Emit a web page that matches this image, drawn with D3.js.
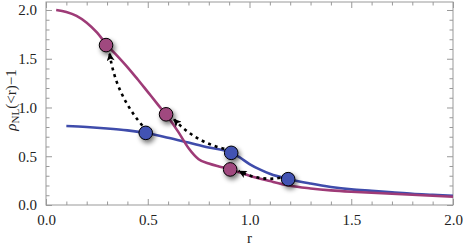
<!DOCTYPE html>
<html lang="en">
<head>
    <meta charset="UTF-8">
    <script src="https://d3js.org/d3.v7.min.js"></script>
    <title>rho_NL(<r)-1 vs r</title>
    <style>
        body { margin: 0; background: #fff; }
        text { font-family: "Liberation Serif", "Times New Roman", serif; }
    </style>
</head>
<body>
    <script>
        // curve samples
        const rPurple = [0.05, 0.1, 0.15, 0.2, 0.25, 0.3, 0.35, 0.4, 0.45, 0.5, 0.55, 0.6, 0.65, 0.7, 0.75, 0.8, 0.85, 0.9, 0.95, 1.0, 1.1, 1.2, 1.3, 1.4, 1.5, 1.6, 1.7, 1.8, 1.9, 2.0];
        const vPurple = [2.0, 1.98, 1.94, 1.87, 1.77, 1.64, 1.53, 1.415, 1.29, 1.16, 1.03, 0.9, 0.75, 0.585, 0.47, 0.425, 0.395, 0.37, 0.335, 0.30, 0.245, 0.197, 0.17, 0.15, 0.136, 0.125, 0.115, 0.105, 0.095, 0.085];
        const rBlue = [0.1, 0.2, 0.3, 0.4, 0.5, 0.6, 0.7, 0.8, 0.9, 0.95, 1.0, 1.05, 1.1, 1.2, 1.3, 1.4, 1.5, 1.6, 1.7, 1.8, 1.9, 2.0];
        const vBlue = [0.81, 0.80, 0.785, 0.765, 0.735, 0.69, 0.64, 0.59, 0.545, 0.49, 0.42, 0.365, 0.32, 0.262, 0.22, 0.185, 0.16, 0.145, 0.13, 0.115, 0.105, 0.095];

        // points: blue (start) -> purple (end)
        const startR = [0.49, 0.91, 1.19];
        const startV = [0.74, 0.535, 0.265];
        const endR = [0.295, 0.59, 0.905];
        const endV = [1.64, 0.93, 0.365];

        const xTicks = [0, 0.5, 1, 1.5, 2];
        const yTicks = [0, 0.5, 1, 1.5, 2];

        const W = 463, H = 248;
        const purple = "#9e3b77", blue = "#3f4cab";
        const purpleDot = "#a04a7f", blueDot = "#4352b3";

        const x = d3.scaleLinear().domain([0, 2]).range([46, 453]);
        const y = d3.scaleLinear().domain([0, 2.082]).range([205, 2]);

        const svg = d3.select("body").append("svg")
            .attr("width", W).attr("height", H);

        const defs = svg.append("defs");
        const f = defs.append("filter").attr("id", "shadow")
            .attr("x", "-80%").attr("y", "-80%").attr("width", "260%").attr("height", "260%");
        f.append("feGaussianBlur").attr("in", "SourceAlpha").attr("stdDeviation", 2.6).attr("result", "b");
        f.append("feOffset").attr("dx", 2).attr("dy", 3).attr("result", "o");
        f.append("feComponentTransfer").append("feFuncA").attr("type", "linear").attr("slope", 0.55);
        const m = f.append("feMerge");
        m.append("feMergeNode");
        m.append("feMergeNode").attr("in", "SourceGraphic");

        defs.append("marker").attr("id", "head")
            .attr("viewBox", "0 0 10 10").attr("refX", 10).attr("refY", 5)
            .attr("markerUnits", "userSpaceOnUse")
            .attr("markerWidth", 10).attr("markerHeight", 8)
            .attr("orient", "auto")
            .append("path").attr("d", "M0,0 L10,5 L0,10 L2.5,5 Z").attr("fill", "#000");

        // frame ticks
        const minor = d3.range(0, 2.001, 0.1).filter(v => Math.abs(v * 2 - Math.round(v * 2)) > 1e-6);
        const tickColor = "#999";
        function axis(gen, tr, vals, size, labels) {
            const g = svg.append("g").attr("transform", tr)
                .call(gen.tickValues(vals).tickSize(size).tickPadding(labels ? 9 : 0)
                    .tickFormat(labels ? d3.format(".1f") : ""));
            g.select(".domain").remove();
            g.attr("font-family", null);
            g.selectAll("line").attr("stroke", tickColor);
            g.selectAll("text").attr("font-size", 15).attr("fill", "#222");
            return g;
        }
        axis(d3.axisBottom(x), "translate(0,205)", xTicks, -6, true);
        axis(d3.axisBottom(x), "translate(0,205)", minor, -3.5, false);
        axis(d3.axisTop(x), "translate(0,2)", xTicks, -6, false);
        axis(d3.axisTop(x), "translate(0,2)", minor, -3.5, false);
        axis(d3.axisLeft(y), "translate(46,0)", yTicks, -6, true);
        axis(d3.axisLeft(y), "translate(46,0)", minor, -3.5, false);
        axis(d3.axisRight(y), "translate(453,0)", yTicks, -6, false);
        axis(d3.axisRight(y), "translate(453,0)", minor, -3.5, false);

        svg.append("rect").attr("x", 46).attr("y", 2).attr("width", 407).attr("height", 203)
            .attr("fill", "none").attr("stroke", tickColor).attr("stroke-width", 1);

        // curves
        const line = d3.line().x(d => x(d[0])).y(d => y(d[1])).curve(d3.curveMonotoneX);
        svg.append("path").datum(rBlue.map((r, i) => [r, vBlue[i]]))
            .attr("d", line).attr("fill", "none").attr("stroke", blue).attr("stroke-width", 2.6);
        svg.append("path").datum(rPurple.map((r, i) => [r, vPurple[i]]))
            .attr("d", line).attr("fill", "none").attr("stroke", purple).attr("stroke-width", 2.6);

        // arrows
        startR.forEach((r, i) => {
            const x0 = x(r), y0 = y(startV[i]), x1 = x(endR[i]), y1 = y(endV[i]);
            const dx = x1 - x0, dy = y1 - y0, L = Math.hypot(dx, dy);
            const ux = dx / L, uy = dy / L;
            const sx = x0 + ux * 8, sy = y0 + uy * 8;
            const ex = x1 - ux * 8.5, ey = y1 - uy * 8.5;
            const k = 0.12 * L;
            const cx = (sx + ex) / 2 + uy * k, cy = (sy + ey) / 2 - ux * k;
            svg.append("path")
                .attr("d", `M${sx},${sy} Q${cx},${cy} ${ex},${ey}`)
                .attr("fill", "none").attr("stroke", "#000").attr("stroke-width", 2.6)
                .attr("stroke-dasharray", "3,4").attr("marker-end", "url(#head)");
        });

        // markers
        const dots = svg.append("g").attr("filter", "url(#shadow)");
        startR.forEach((r, i) => {
            dots.append("circle").attr("cx", x(r)).attr("cy", y(startV[i])).attr("r", 6.8)
                .attr("fill", blueDot).attr("stroke", "#000").attr("stroke-width", 1);
        });
        endR.forEach((r, i) => {
            dots.append("circle").attr("cx", x(r)).attr("cy", y(endV[i])).attr("r", 6.8)
                .attr("fill", purpleDot).attr("stroke", "#000").attr("stroke-width", 1);
        });

        // axis labels
        svg.append("text").attr("x", x(1)).attr("y", 243).attr("text-anchor", "middle")
            .attr("font-size", 15).attr("fill", "#222").text("r");
        const yl = svg.append("text").attr("transform", "translate(16,100) rotate(-90)")
            .attr("text-anchor", "middle").attr("font-size", 15).attr("fill", "#222");
        yl.append("tspan").attr("font-style", "italic").text("ρ");
        yl.append("tspan").attr("font-size", 11).attr("dy", 3).text("NL");
        yl.append("tspan").attr("dy", -3).text("(<r)−1");
    </script>
</body>
</html>
